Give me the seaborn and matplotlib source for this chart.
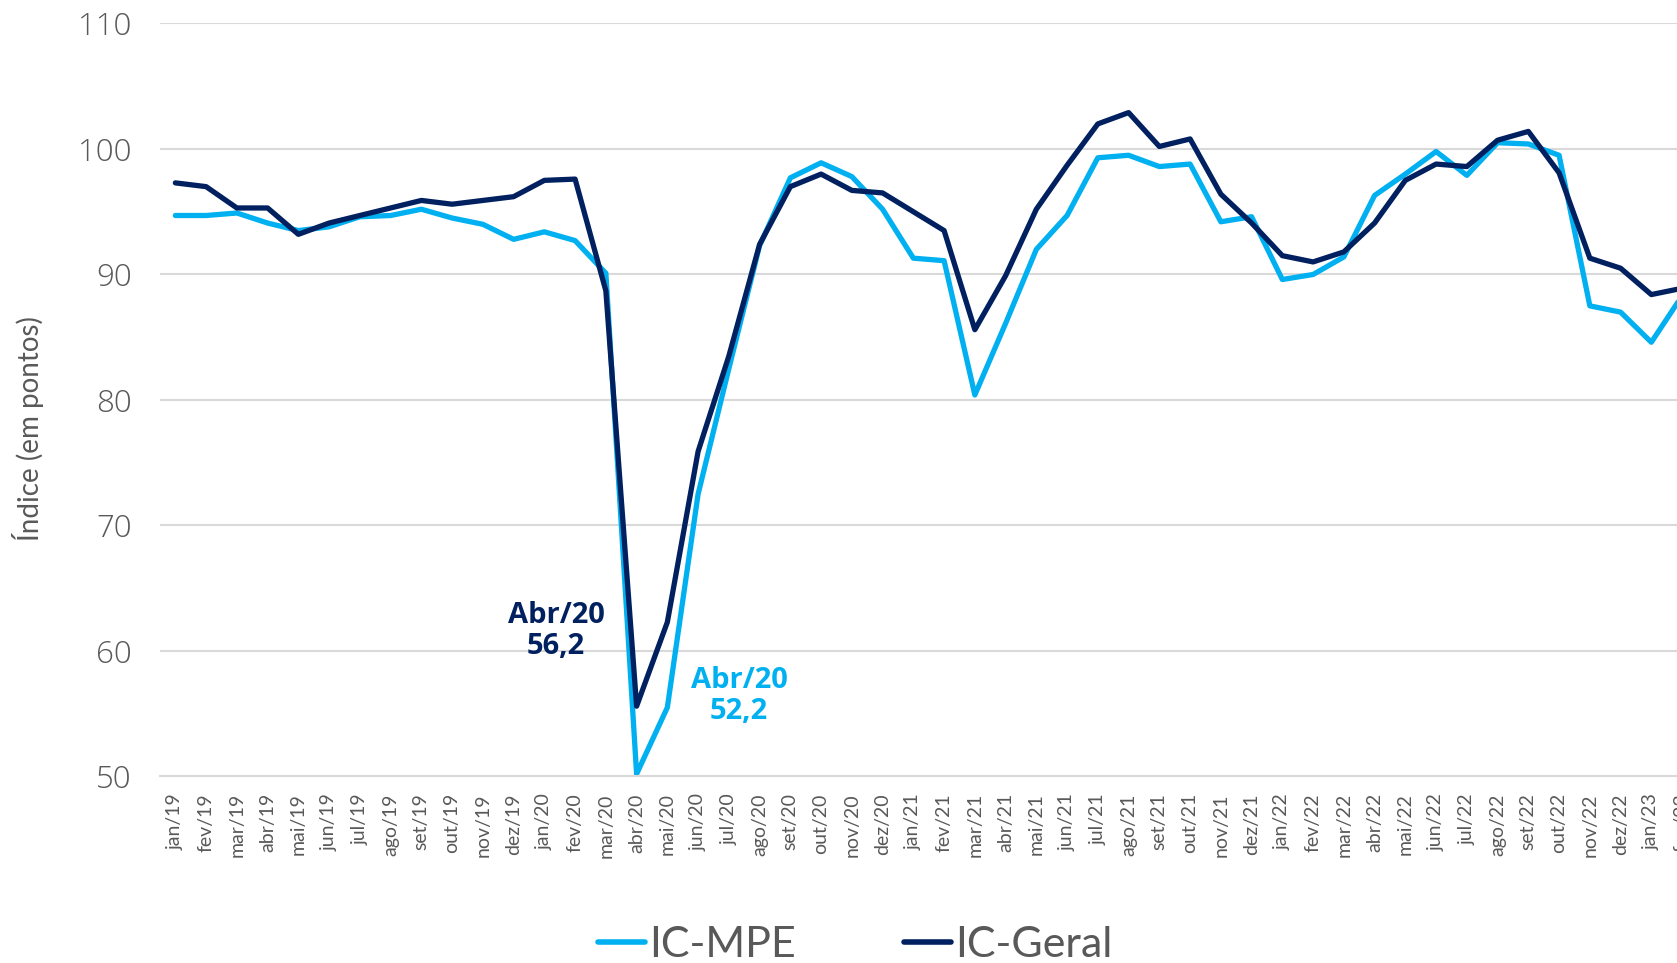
import pandas as pd
import matplotlib.pyplot as plt
import seaborn as sns

# Monthly labels (jan/19 .. fev/23)
meses = ['jan', 'fev', 'mar', 'abr', 'mai', 'jun', 'jul', 'ago', 'set', 'out', 'nov', 'dez']
labels = [f'{m}/{a}' for a in ['19', '20', '21', '22', '23'] for m in meses][:50]

ic_mpe = [94.7, 94.7, 94.9, 94.1, 93.5, 93.8, 94.6, 94.7, 95.2, 94.5, 94.0, 92.8,
          93.4, 92.7, 90.1, 50.2, 55.5, 72.5, 82.5, 92.3, 97.7, 98.9, 97.8, 95.2,
          91.3, 91.1, 80.4, 86.1, 92.0, 94.7, 99.3, 99.5, 98.6, 98.8, 94.2, 94.6,
          89.6, 90.0, 91.4, 96.3, 98.0, 99.8, 97.9, 100.5, 100.4, 99.5, 87.5, 87.0,
          84.6, 88.3]
ic_geral = [97.3, 97.0, 95.3, 95.3, 93.2, 94.1, 94.7, 95.3, 95.9, 95.6, 95.9, 96.2,
            97.5, 97.6, 88.7, 55.6, 62.3, 75.9, 83.5, 92.4, 97.0, 98.0, 96.7, 96.5,
            95.0, 93.5, 85.6, 89.9, 95.2, 98.7, 102.0, 102.9, 100.2, 100.8, 96.4, 94.1,
            91.5, 91.0, 91.8, 94.1, 97.5, 98.8, 98.6, 100.7, 101.4, 98.1, 91.3, 90.5,
            88.4, 88.9]

df = pd.DataFrame({'idx': list(range(len(labels))) * 2,
                   'valor': ic_mpe + ic_geral,
                   'serie': ['IC-MPE'] * len(labels) + ['IC-Geral'] * len(labels)})

cor_mpe = '#00B0F0'
cor_geral = '#002060'
cinza = '#595959'

sns.set_style('white')
plt.rcParams['font.family'] = ['Lato', 'DejaVu Sans']

fig = plt.figure(figsize=(16.77, 9.63), dpi=100)
ax = fig.add_axes([0.0954, 0.1937, 1.0122 - 0.0954, 0.9756 - 0.1937])

sns.lineplot(data=df, x='idx', y='valor', hue='serie',
             palette={'IC-MPE': cor_mpe, 'IC-Geral': cor_geral},
             linewidth=3.8, ax=ax, legend=False)

ax.set_xlim(-0.5, len(labels) - 0.5)
ax.set_ylim(50, 110)
ax.set_yticks(range(50, 111, 10))
ax.yaxis.grid(True, color='#D9D9D9', linewidth=1.5)
ax.set_axisbelow(True)
for s in ['top', 'right', 'left']:
    ax.spines[s].set_visible(False)
ax.spines['bottom'].set_color('#D9D9D9')
ax.spines['bottom'].set_linewidth(1.5)

ax.set_xticks(range(len(labels)))
ax.set_xticklabels(labels, rotation=90, fontsize=14, color=cinza)
ax.tick_params(axis='x', length=0, pad=12)
ax.set_xticks([i - 0.5 for i in range(len(labels) + 1)], minor=True)
ax.tick_params(axis='x', which='minor', length=8, color='#D9D9D9', width=1.5)
ax.tick_params(axis='y', length=0, labelsize=22.5, labelcolor=cinza, pad=20.5)
for t in ax.get_yticklabels():
    t.set_fontfamily(['Open Sans', 'DejaVu Sans'])
    t.set_fontweight('light')
ax.set_xlabel('')
ax.set_ylabel('Índice (em pontos)', fontsize=20, color=cinza)
ax.yaxis.set_label_coords(-0.0755, 0.462)

ax.text(12.38, 61.6, 'Abr/20\n56,2', color=cor_geral, fontsize=21, fontweight='bold',
        ha='center', va='center', linespacing=1.1, family=['Open Sans', 'DejaVu Sans'])
ax.text(18.33, 56.4, 'Abr/20\n52,2', color=cor_mpe, fontsize=21, fontweight='bold',
        ha='center', va='center', linespacing=1.1, family=['Open Sans', 'DejaVu Sans'])

handles = [plt.Line2D([], [], color=cor_mpe, linewidth=4, solid_capstyle='round'),
           plt.Line2D([], [], color=cor_geral, linewidth=4, solid_capstyle='round')]
leg = fig.legend(handles, ['IC-MPE', 'IC-Geral'], loc='center', bbox_to_anchor=(0.51, 0.019),
                 ncol=2, frameon=False, fontsize=31, handlelength=1.1, handletextpad=0.1,
                 columnspacing=2.5)
for t in leg.get_texts():
    t.set_color(cinza)

fig.savefig('out.png', dpi=100)
